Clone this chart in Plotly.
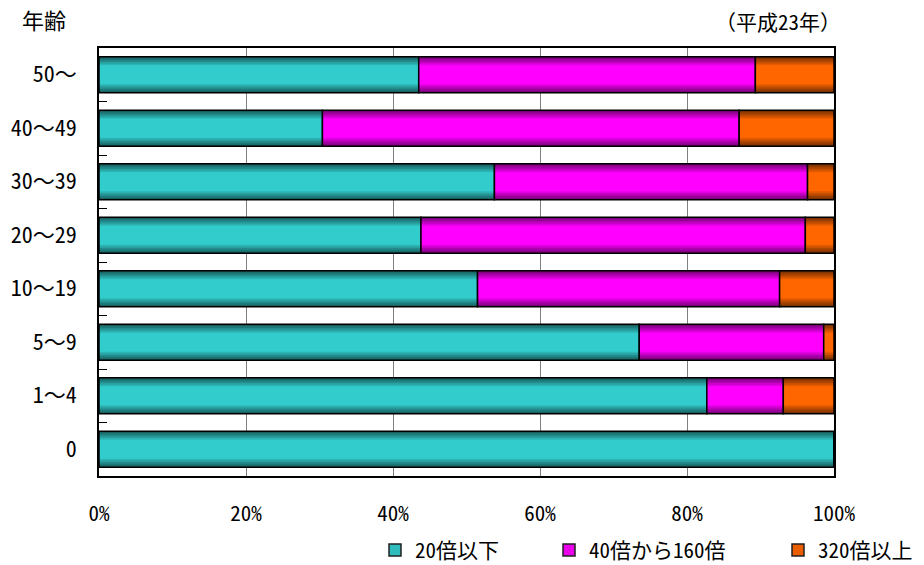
import plotly.graph_objects as go

# Age groups (bottom to top) and share of each titre band, in percent
ages = ["0", "1～4", "5～9", "10～19", "20～29", "30～39", "40～49", "50～"]
low_20 = [100.0, 82.7, 73.5, 51.5, 43.8, 53.8, 30.4, 43.5]
mid_40_160 = [0.0, 10.4, 25.1, 41.1, 52.3, 42.6, 56.7, 45.8]
high_320 = [0.0, 6.9, 1.4, 7.4, 3.9, 3.6, 12.9, 10.7]

series_names = ["20倍以下", "40倍から160倍", "320倍以上"]
series_values = [low_20, mid_40_160, high_320]
# (edge colour, centre colour) for the shaded bar fill
series_colors = [((24, 96, 96), (51, 204, 204)),
                 ((122, 0, 122), (255, 0, 255)),
                 ((120, 48, 0), (255, 102, 0))]
legend_ids = ["legend", "legend2", "legend3"]
legend_left = [375, 549, 778]  # px from the left edge of the page

FONT = "Noto Sans Mono CJK JP, Noto Sans CJK JP, sans-serif"
BAR_W = 0.67
LAYERS = 9


def mix(c0, c1, t):
    return "rgb({},{},{})".format(*[round(a + (b - a) * t) for a, b in zip(c0, c1)])


fig = go.Figure()
bases = [0.0] * len(ages)
for name, vals, (edge, centre) in zip(series_names, series_values, series_colors):
    base = list(bases)
    # stacked layers of shrinking thickness give a vertical shading
    for k in range(LAYERS):
        t = min(1.0, (k / (LAYERS - 1)) * 1.6)
        fig.add_trace(go.Bar(
            y=ages, x=vals, base=base, orientation="h",
            width=BAR_W * (1 - k / (LAYERS + 1.5)),
            marker=dict(color=mix(edge, centre, t), line=dict(width=0)),
            name=name, showlegend=False, hoverinfo="skip",
        ))
    # outline drawn on top
    fig.add_trace(go.Bar(
        y=ages, x=vals, base=base, orientation="h", width=BAR_W,
        marker=dict(color="rgba(0,0,0,0)", line=dict(color="black", width=1.5)),
        showlegend=False, name=name,
    ))
    bases = [b + v for b, v in zip(bases, vals)]

# legend entries, one small legend per series
for name, (edge, centre), lid in zip(series_names, series_colors, legend_ids):
    fig.add_trace(go.Bar(
        y=[None], x=[None], orientation="h", name=name,
        marker=dict(color=mix(edge, centre, 0.85),
                    line=dict(color="#202020", width=1.5)),
        showlegend=True, legend=lid,
    ))

legend_style = dict(orientation="h", xref="container", yref="container",
                    y=0.026, xanchor="left", yanchor="middle",
                    font=dict(size=21), bgcolor="rgba(0,0,0,0)",
                    itemclick=False, itemdoubleclick=False)
legends = {lid: dict(legend_style, x=px / 924)
           for lid, px in zip(legend_ids, legend_left)}

fig.update_layout(
    width=924, height=565,
    margin=dict(l=99, r=90, t=48, b=89, autoexpand=False),
    barmode="overlay",
    plot_bgcolor="white", paper_bgcolor="white",
    font=dict(family=FONT, size=21, color="black"),
    xaxis=dict(range=[0, 100], dtick=20, ticksuffix="%",
               showgrid=True, gridcolor="#808080", gridwidth=1,
               showline=True, linecolor="black", linewidth=1.5, mirror=True,
               ticks="", ticklabelstandoff=18, zeroline=False,
               tickfont=dict(size=21)),
    yaxis=dict(categoryorder="array", categoryarray=ages,
               range=[-0.5, 7.5],
               showline=True, linecolor="black", linewidth=1.5, mirror=True,
               ticks="inside", tickson="boundaries", ticklen=8,
               tickcolor="black", tickwidth=1,
               showgrid=False, ticklabelstandoff=16,
               tickfont=dict(size=22)),
    annotations=[
        dict(text="年齢", xref="paper", yref="paper", x=-0.108, y=1.068,
             xanchor="left", yanchor="middle", showarrow=False,
             font=dict(size=22)),
        dict(text="（平成23年）", xref="paper", yref="paper", x=1.012, y=1.062,
             xanchor="right", yanchor="middle", showarrow=False,
             font=dict(size=21)),
    ],
    **legends,
)

fig.write_html("out.html")
